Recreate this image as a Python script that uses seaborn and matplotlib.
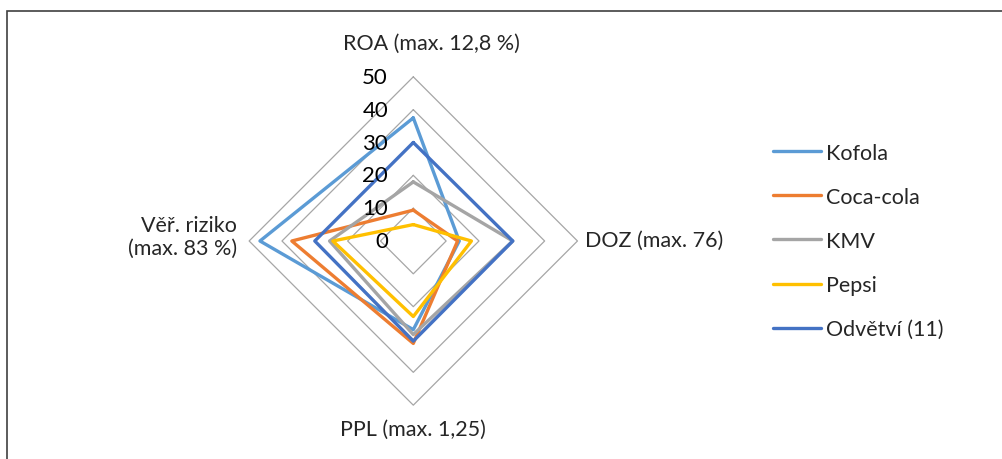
import pandas as pd
import matplotlib.pyplot as plt
import seaborn as sns
import numpy as np
from matplotlib.patches import Rectangle

# radar axes (clockwise from top)
axes_labels = ["ROA (max. 12,8 %)", "DOZ (max. 76)", "PPL (max. 1,25)", "Věř. riziko\n(max. 83 %)"]
series = ["Kofola", "Coca-cola", "KMV", "Pepsi", "Odvětví (11)"]
kofola = [37.5, 14.0, 27.0, 46.7]
coca_cola = [9.4, 13.5, 31.2, 37.0]
kmv = [18.0, 30.3, 28.5, 25.5]
pepsi = [5.0, 17.7, 23.0, 24.5]
odvetvi = [30.0, 30.3, 30.5, 30.0]
ticks = [0, 10, 20, 30, 40, 50]

colors = ["#5B9BD5", "#ED7D31", "#A5A5A5", "#FFC000", "#4472C4"]

# build long table, closing each polygon
angles = np.deg2rad([0, 90, 180, 270])
rows = []
for name, vals in zip(series, [kofola, coca_cola, kmv, pepsi, odvetvi]):
    for i in list(range(4)) + [0]:
        rows.append({"series": name,
                     "x": vals[i] * np.sin(angles[i]),
                     "y": vals[i] * np.cos(angles[i])})
df = pd.DataFrame(rows)

sns.set_style("white")
plt.rcParams['font.family'] = ['Lato', 'DejaVu Sans']

fig = plt.figure(figsize=(10.02, 4.6), dpi=100)
ax = fig.add_axes([216.3 / 1002, 21 / 460, 394 / 1002, 394 / 460])
ax.set_xlim(-60, 60)
ax.set_ylim(-60, 60)
ax.axis("off")

# diamond gridlines
for r in ticks[1:]:
    ax.plot([0, r, 0, -r, 0], [r, 0, -r, 0, r], color="#a6a6a6", lw=0.9, zorder=1)

sns.lineplot(data=df, x="x", y="y", hue="series", hue_order=series,
             palette=colors, sort=False, estimator=None, lw=2.4, ax=ax, zorder=2)

# value labels on the top spoke
for t in ticks:
    ax.text(-7.7, t, str(t), ha="right", va="center", fontsize=16, color="black")

# category labels
fs = 15.5
ax.text(5.4, 60.4, axes_labels[0], ha="center", va="center", fontsize=fs)
ax.text(52.3, 0.3, axes_labels[1], ha="left", va="center", fontsize=fs)
ax.text(0, -57.3, axes_labels[2], ha="center", va="center", fontsize=fs)
ax.text(-53.8, 1.4, axes_labels[3], ha="right", va="center", fontsize=fs,
        multialignment="right", linespacing=1.2)

sns.move_legend(ax, "center left", bbox_to_anchor=(773 / 1002, 1 - 242 / 460),
                bbox_transform=fig.transFigure, frameon=False, title=None,
                fontsize=fs, handlelength=2.25, handletextpad=0.2,
                labelspacing=1.12, borderpad=0, borderaxespad=0)
for line in ax.get_legend().get_lines():
    line.set_linewidth(2.4)

# chart frame (only top/left edges visible in the crop)
fig.add_artist(Rectangle((7 / 1002, -0.1), 1.2, (1 - 12 / 460) + 0.1,
                         transform=fig.transFigure, fill=False,
                         ec="#404040", lw=1.2))

plt.savefig("out.png", dpi=100)
plt.close()
